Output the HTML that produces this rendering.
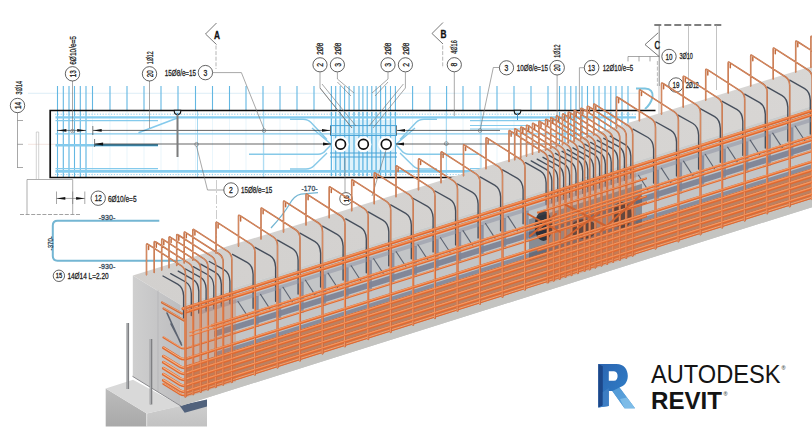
<!DOCTYPE html>
<html lang="en"><head><meta charset="utf-8"><title>Autodesk Revit - beam reinforcement</title>
<style>html,body{margin:0;padding:0;background:#fff;}body{width:812px;height:433px;overflow:hidden;}svg{display:block;}</style>
</head><body>
<svg width="812" height="433" viewBox="0 0 812 433">
<defs>
<linearGradient id="gEnd" x1="0" y1="0" x2="1" y2="0"><stop offset="0" stop-color="#cfcfcf"/><stop offset="1" stop-color="#bdbdbf"/></linearGradient>
<linearGradient id="gTop" x1="0" y1="1" x2="1" y2="0"><stop offset="0" stop-color="#d2d0ce"/><stop offset="1" stop-color="#d8d6d4"/></linearGradient>
<linearGradient id="gColL" x1="0" y1="0" x2="0" y2="1"><stop offset="0" stop-color="#bcbcbc"/><stop offset="1" stop-color="#a9a9a9"/></linearGradient>
<linearGradient id="gColR" x1="0" y1="0" x2="0" y2="1"><stop offset="0" stop-color="#d0d0d0"/><stop offset="1" stop-color="#c2c2c2"/></linearGradient>
<linearGradient id="gR" x1="0" y1="0" x2="1" y2="1"><stop offset="0" stop-color="#2b64b0"/><stop offset="0.6" stop-color="#2f79c2"/><stop offset="1" stop-color="#62a9df"/></linearGradient>
</defs>
<rect width="812" height="433" fill="#fff"/>
<g id="drawing" fill="none">
<path d="M28 93.3H640" stroke="#cfe6f2" stroke-width="0.7"/>
<path d="M28 144.3H60" stroke="#e8c9c0" stroke-width="0.5"/>
<path d="M57.5 86V110M63.3 86V110M69 86V110M74.5 86V110M80.3 86V110M86 86V110M92.5 86V110M110 86V110M127 86V110M144 86V110M161 86V110M178 86V110M195.5 86V110M212.5 86V110M229.5 86V110M246 86V110M263 86V110M280 86V110M297 86V110M314 86V110M331.4 86V110M335.7 86V110M340.2 86V110M344.6 86V110M349.1 86V110M354 86V110M359 86V110M362.9 86V110M367.2 86V110M371.8 86V110M376.1 86V110M380.6 86V110M385.6 86V110M390.5 86V110M395.4 86V110M412.6 86V110M429.9 86V110M446.6 86V110M463 86V110M480 86V110M497 86V110M514 86V110M531 86V110M548 86V110M559.5 86V110M565 86V110M570.8 86V110M576 86V110M582 86V110M587.5 86V110M593.8 86V110M599 86V110M605 86V110M610.8 86V110M616 86V110M622 86V110M628 86V110" stroke="#63b7e2" stroke-width="1.1"/>
<path d="M57.5 111V177M63.3 111V177M69 111V177M74.5 111V177M80.3 111V177M86 111V177M92.5 111V177M110 111V177M127 111V177M144 111V177M161 111V177M178 111V177M195.5 111V177M212.5 111V177M229.5 111V177M246 111V177M263 111V177M280 111V177M297 111V177M314 111V177M331.4 111V177M335.7 111V177M340.2 111V177M344.6 111V177M349.1 111V177M354 111V177M359 111V177M362.9 111V177M367.2 111V177M371.8 111V177M376.1 111V177M380.6 111V177M385.6 111V177M390.5 111V177M395.4 111V177M412.6 111V177M429.9 111V177M446.6 111V177M463 111V177M480 111V177M497 111V177M514 111V177M531 111V177M548 111V177M559.5 111V177M565 111V177M570.8 111V177M576 111V177M582 111V177M587.5 111V177M593.8 111V177M599 111V177M605 111V177M610.8 111V177M616 111V177M622 111V177M628 111V177" stroke="#84caec" stroke-width="0.8" opacity="0.22"/>
<path d="M197.5 111V177" stroke="#84caec" stroke-width="0.9" opacity="0.8"/>
<path d="M57.5 111V177M63.3 111V177M69 111V177M74.5 111V177M80.3 111V177M86 111V177" stroke="#63b7e2" stroke-width="1.1"/>
<rect x="333" y="120" width="61" height="52" fill="#9ad6f2" opacity="0.32"/>
<path d="M331.4 112V176M335.7 112V176M340.2 112V176M344.6 112V176M349.1 112V176M354 112V176M359 112V176M362.9 112V176M367.2 112V176M371.8 112V176M376.1 112V176M380.6 112V176M385.6 112V176M390.5 112V176M395.4 112V176" stroke="#63b7e2" stroke-width="1.3"/>
<path d="M330 125.6H397M330 157H397M330 135.5H397M330 153H397" stroke="#4aa3d6" stroke-width="1"/>
<path d="M559.5 112V176M565 112V176M570.8 112V176M576 112V176M582 112V176M587.5 112V176M593.8 112V176M599 112V176M605 112V176M610.8 112V176M616 112V176M622 112V176M628 112V176" stroke="#63b7e2" stroke-width="1.2"/>
<path d="M55 114.2H636M55 174.6H636" stroke="#63b7e2" stroke-width="0.7" stroke-dasharray="1.2 1.6"/>
<path d="M55.5 117.3H636" stroke="#84ccef" stroke-width="2.3"/>
<path d="M55.5 133.8H636" stroke="#84caec" stroke-width="1.2"/>
<path d="M55.5 171.4H636" stroke="#84ccef" stroke-width="2.8"/>
<path d="M55.5 120.6H158M55.5 168.7H158" stroke="#84caec" stroke-width="1.3"/>
<path d="M55.5 145.2H158" stroke="#84caec" stroke-width="2.6"/>
<path d="M95 145.2H158" stroke="#3a7f9f" stroke-width="1.8"/>
<path d="M470 120.6H560M470 168.7H560" stroke="#84caec" stroke-width="1.3"/>
<path d="M470 125.5H530M470 129H530" stroke="#84caec" stroke-width="1.2"/>
<path d="M138.5 132.8L178 117.8" stroke="#84caec" stroke-width="1.5"/>
<path d="M290 119.2H303Q308 119.2 311 122.5L327 139.5M249 154.2H318Q323 154.2 326 150L331.5 144.5M290 169H306Q311 169 314 165.8L327 153M312 128L331 144.3" stroke="#86c9e8" stroke-width="1.4"/>
<path d="M437 119.2H424Q419 119.2 416 122.5L400 139.5M478 154.2H409Q404 154.2 401 150L395.5 144.5M437 169H421Q416 169 413 165.8L400 153M415 128L396 144.3" stroke="#86c9e8" stroke-width="1.4"/>
<path d="M263.7 111V177M446.3 111V177M481 111V177" stroke="#84caec" stroke-width="0.9" opacity="0.85"/>
<circle cx="446.3" cy="143.6" r="1.9" stroke="#6d6d6d" stroke-width="0.6" fill="none"/>
<path d="M93 130.4H330M95 144H331M397 130.4H500M396 144H560" stroke="#222" stroke-width="0.7"/>
<path d="M57 130.4H86" stroke="#222" stroke-width="0.6"/>
<path d="M93.2 130.4l8.5 -1.4v2.8z" fill="#111" stroke="none"/>
<path d="M94.3 144l8.8 -1.4v2.8z" fill="#111" stroke="none"/>
<path d="M330.5 130.4l-8.5 -1.4v2.8z" fill="#111" stroke="none"/>
<path d="M331.5 144l-8.5 -1.4v2.8z" fill="#111" stroke="none"/>
<path d="M396.5 130.4l8.5 -1.4v2.8z" fill="#111" stroke="none"/>
<path d="M395.5 144l8.5 -1.4v2.8z" fill="#111" stroke="none"/>
<path d="M57.4 130.4l9 -1.3v2.6z" fill="#111" stroke="none"/>
<path d="M86.2 130.4l-9 -1.3v2.6z" fill="#111" stroke="none"/>
<path d="M92.8 126V135M94.6 139V147M330.5 126V135M396.5 126V135" stroke="#222" stroke-width="0.6"/>
<path d="M50.2 110.5H655.5M50.2 177.5H655.5M50.2 109.7V178.3" stroke="#0b0b0b" stroke-width="1.7"/>
<path d="M636 88.6H645Q653.5 89 652.5 97Q651 104 645 109" stroke="#7cc4e0" stroke-width="2" fill="none"/>
<path d="M174.3 110.2v1.2a3.2 3 0 0 0 6.4 0v-1.2z" fill="#cfe9f6" stroke="#111" stroke-width="1.1"/>
<path d="M177.5 113V120" stroke="#3f8fc4" stroke-width="1"/>
<path d="M514.3 110.2v1.2a3.2 3 0 0 0 6.4 0v-1.2z" fill="#cfe9f6" stroke="#111" stroke-width="1.1"/>
<path d="M517.5 113V120" stroke="#3f8fc4" stroke-width="1"/>
<path d="M177.5 115V157" stroke="#7c7c7c" stroke-width="2"/>
<circle cx="340.6" cy="144.3" r="8" fill="#fff"/>
<circle cx="340.6" cy="144.3" r="4.9" fill="#fff" stroke="#111" stroke-width="1.7"/>
<circle cx="363.4" cy="144.3" r="8" fill="#fff"/>
<circle cx="363.4" cy="144.3" r="4.9" fill="#fff" stroke="#111" stroke-width="1.7"/>
<circle cx="386.2" cy="144.3" r="8" fill="#fff"/>
<circle cx="386.2" cy="144.3" r="4.9" fill="#fff" stroke="#111" stroke-width="1.7"/>
</g>
<g id="annot">
<path d="M17.5 112V168M17.5 120.5H23M17.5 144.3H23M17.5 167.5H23" stroke="#6d6d6d" stroke-width="0.6" fill="none"/>
<circle cx="17.5" cy="105.5" r="7.2" fill="#fff" stroke="#3a3a3a" stroke-width="0.8"/>
<text transform="translate(20.6 105.5) rotate(-90)" font-family="Liberation Sans, sans-serif" font-size="8.8" text-anchor="middle" fill="#1f1f1f" stroke="#1f1f1f" stroke-width="0.3" textLength="7" lengthAdjust="spacingAndGlyphs">14</text>
<text transform="translate(22.3 94.4) rotate(-90)" font-family="Liberation Sans, sans-serif" font-size="8.6" text-anchor="start" fill="#1f1f1f" stroke="#1f1f1f" stroke-width="0.3" textLength="13.4" lengthAdjust="spacingAndGlyphs">3Ø14</text>
<path d="M72.5 80V132" stroke="#6d6d6d" stroke-width="0.6" fill="none"/>
<circle cx="72.5" cy="131" r="1.8" stroke="#6d6d6d" stroke-width="0.6" fill="none"/>
<circle cx="72.5" cy="73.8" r="7.2" fill="#fff" stroke="#3a3a3a" stroke-width="0.8"/>
<text transform="translate(75.6 73.8) rotate(-90)" font-family="Liberation Sans, sans-serif" font-size="8.8" text-anchor="middle" fill="#1f1f1f" stroke="#1f1f1f" stroke-width="0.3" textLength="7" lengthAdjust="spacingAndGlyphs">13</text>
<text transform="translate(76.1 64.8) rotate(-90)" font-family="Liberation Sans, sans-serif" font-size="8.6" text-anchor="start" fill="#1f1f1f" stroke="#1f1f1f" stroke-width="0.3" textLength="28.8" lengthAdjust="spacingAndGlyphs">6Ø10/e=5</text>
<path d="M149.5 80V128" stroke="#6d6d6d" stroke-width="0.6" fill="none"/>
<circle cx="149.5" cy="73.8" r="7.2" fill="#fff" stroke="#3a3a3a" stroke-width="0.8"/>
<text transform="translate(152.6 73.8) rotate(-90)" font-family="Liberation Sans, sans-serif" font-size="8.8" text-anchor="middle" fill="#1f1f1f" stroke="#1f1f1f" stroke-width="0.3" textLength="7" lengthAdjust="spacingAndGlyphs">20</text>
<text transform="translate(153 64.2) rotate(-90)" font-family="Liberation Sans, sans-serif" font-size="8.6" text-anchor="start" fill="#1f1f1f" stroke="#1f1f1f" stroke-width="0.3" textLength="12.8" lengthAdjust="spacingAndGlyphs">1Ø12</text>
<text x="164.8" y="75.9" font-family="Liberation Sans, sans-serif" font-size="8.8" text-anchor="start" fill="#1f1f1f" stroke="#1f1f1f" stroke-width="0.3" textLength="31.2" lengthAdjust="spacingAndGlyphs">15Ø8/e=15</text>
<circle cx="205.4" cy="72.6" r="7.2" fill="#fff" stroke="#3a3a3a" stroke-width="0.8"/>
<text x="205.4" y="75.8" font-family="Liberation Sans, sans-serif" font-size="8.8" text-anchor="middle" fill="#1f1f1f" stroke="#1f1f1f" stroke-width="0.3" textLength="3.8" lengthAdjust="spacingAndGlyphs">3</text>
<path d="M212.6 72.6H241.4L264 129" stroke="#6d6d6d" stroke-width="0.6" fill="none"/>
<circle cx="264" cy="130.6" r="1.8" stroke="#6d6d6d" stroke-width="0.6" fill="none"/>
<path d="M216.5 23L205.5 34L216.5 44.5" stroke="#555" stroke-width="0.8" fill="none"/>
<text x="214.1" y="38.6" font-family="Liberation Sans, sans-serif" font-size="10.6" text-anchor="start" fill="#111" stroke="#111" stroke-width="0.3" font-weight="bold" textLength="6" lengthAdjust="spacingAndGlyphs">A</text>
<path d="M216 45.5V69" stroke="#b5b5b5" stroke-width="1" stroke-dasharray="4 1.6" fill="none"/>
<path d="M216.5 180V300" stroke="#aaa" stroke-width="0.6" stroke-dasharray="9 2 2 2" fill="none"/>
<path d="M443 22.5L432 33.5L443 44" stroke="#555" stroke-width="0.8" fill="none"/>
<text x="440.6" y="38.1" font-family="Liberation Sans, sans-serif" font-size="10.6" text-anchor="start" fill="#111" stroke="#111" stroke-width="0.3" font-weight="bold" textLength="6" lengthAdjust="spacingAndGlyphs">B</text>
<path d="M442.7 45.5V68" stroke="#b5b5b5" stroke-width="1" stroke-dasharray="4 1.6" fill="none"/>
<circle cx="320" cy="64.8" r="7.1" fill="#fff" stroke="#3a3a3a" stroke-width="0.8"/>
<text transform="translate(323.1 64.8) rotate(-90)" font-family="Liberation Sans, sans-serif" font-size="8.8" text-anchor="middle" fill="#1f1f1f" stroke="#1f1f1f" stroke-width="0.3" textLength="3.8" lengthAdjust="spacingAndGlyphs">2</text>
<text transform="translate(323.2 54.8) rotate(-90)" font-family="Liberation Sans, sans-serif" font-size="8.6" text-anchor="start" fill="#1f1f1f" stroke="#1f1f1f" stroke-width="0.3" textLength="12" lengthAdjust="spacingAndGlyphs">2Ø8</text>
<circle cx="337.4" cy="64.8" r="7.1" fill="#fff" stroke="#3a3a3a" stroke-width="0.8"/>
<text transform="translate(340.5 64.8) rotate(-90)" font-family="Liberation Sans, sans-serif" font-size="8.8" text-anchor="middle" fill="#1f1f1f" stroke="#1f1f1f" stroke-width="0.3" textLength="3.8" lengthAdjust="spacingAndGlyphs">3</text>
<text transform="translate(340.6 54.8) rotate(-90)" font-family="Liberation Sans, sans-serif" font-size="8.6" text-anchor="start" fill="#1f1f1f" stroke="#1f1f1f" stroke-width="0.3" textLength="12" lengthAdjust="spacingAndGlyphs">2Ø8</text>
<circle cx="388" cy="64.8" r="7.1" fill="#fff" stroke="#3a3a3a" stroke-width="0.8"/>
<text transform="translate(391.1 64.8) rotate(-90)" font-family="Liberation Sans, sans-serif" font-size="8.8" text-anchor="middle" fill="#1f1f1f" stroke="#1f1f1f" stroke-width="0.3" textLength="3.8" lengthAdjust="spacingAndGlyphs">3</text>
<text transform="translate(391.2 54.8) rotate(-90)" font-family="Liberation Sans, sans-serif" font-size="8.6" text-anchor="start" fill="#1f1f1f" stroke="#1f1f1f" stroke-width="0.3" textLength="12" lengthAdjust="spacingAndGlyphs">2Ø8</text>
<circle cx="405.4" cy="64.8" r="7.1" fill="#fff" stroke="#3a3a3a" stroke-width="0.8"/>
<text transform="translate(408.5 64.8) rotate(-90)" font-family="Liberation Sans, sans-serif" font-size="8.8" text-anchor="middle" fill="#1f1f1f" stroke="#1f1f1f" stroke-width="0.3" textLength="3.8" lengthAdjust="spacingAndGlyphs">2</text>
<text transform="translate(408.6 54.8) rotate(-90)" font-family="Liberation Sans, sans-serif" font-size="8.6" text-anchor="start" fill="#1f1f1f" stroke="#1f1f1f" stroke-width="0.3" textLength="12" lengthAdjust="spacingAndGlyphs">2Ø8</text>
<path d="M320 72.2V88L352 128M320 88L352 128M322 84L356 126" stroke="#6d6d6d" stroke-width="0.6" fill="none"/>
<path d="M337.4 72.2V79L354 93M337.4 82L351 96" stroke="#6d6d6d" stroke-width="0.6" fill="none"/>
<path d="M388 72.2V79L372 93M388 82L375 96" stroke="#6d6d6d" stroke-width="0.6" fill="none"/>
<path d="M405.4 72.2V88L373 128M403.4 84L369 126" stroke="#6d6d6d" stroke-width="0.6" fill="none"/>
<path d="M454.3 72V116" stroke="#6d6d6d" stroke-width="0.6" fill="none"/>
<circle cx="454.3" cy="64.7" r="7.1" fill="#fff" stroke="#3a3a3a" stroke-width="0.8"/>
<text transform="translate(457.4 64.7) rotate(-90)" font-family="Liberation Sans, sans-serif" font-size="8.8" text-anchor="middle" fill="#1f1f1f" stroke="#1f1f1f" stroke-width="0.3" textLength="3.8" lengthAdjust="spacingAndGlyphs">8</text>
<text transform="translate(457.4 53.8) rotate(-90)" font-family="Liberation Sans, sans-serif" font-size="8.6" text-anchor="start" fill="#1f1f1f" stroke="#1f1f1f" stroke-width="0.3" textLength="13.5" lengthAdjust="spacingAndGlyphs">4Ø16</text>
<circle cx="506.5" cy="67.8" r="7.1" fill="#fff" stroke="#3a3a3a" stroke-width="0.8"/>
<text x="506.5" y="71" font-family="Liberation Sans, sans-serif" font-size="8.8" text-anchor="middle" fill="#1f1f1f" stroke="#1f1f1f" stroke-width="0.3" textLength="3.8" lengthAdjust="spacingAndGlyphs">3</text>
<path d="M499.4 67.5H493.3L480.3 129" stroke="#6d6d6d" stroke-width="0.6" fill="none"/>
<circle cx="480" cy="130.6" r="1.8" stroke="#6d6d6d" stroke-width="0.6" fill="none"/>
<text x="516.8" y="70.8" font-family="Liberation Sans, sans-serif" font-size="8.8" text-anchor="start" fill="#1f1f1f" stroke="#1f1f1f" stroke-width="0.3" textLength="31.2" lengthAdjust="spacingAndGlyphs">10Ø8/e=15</text>
<path d="M557.1 75V116" stroke="#6d6d6d" stroke-width="0.6" fill="none"/>
<circle cx="557.1" cy="67.7" r="7.3" fill="#fff" stroke="#3a3a3a" stroke-width="0.8"/>
<text transform="translate(560.2 67.7) rotate(-90)" font-family="Liberation Sans, sans-serif" font-size="8.8" text-anchor="middle" fill="#1f1f1f" stroke="#1f1f1f" stroke-width="0.3" textLength="7" lengthAdjust="spacingAndGlyphs">20</text>
<text transform="translate(560.4 57.8) rotate(-90)" font-family="Liberation Sans, sans-serif" font-size="8.6" text-anchor="start" fill="#1f1f1f" stroke="#1f1f1f" stroke-width="0.3" textLength="13.2" lengthAdjust="spacingAndGlyphs">1Ø12</text>
<path d="M584.4 67.7H579.4V110" stroke="#6d6d6d" stroke-width="0.6" fill="none"/>
<circle cx="591.6" cy="67.7" r="7.3" fill="#fff" stroke="#3a3a3a" stroke-width="0.8"/>
<text x="591.6" y="70.9" font-family="Liberation Sans, sans-serif" font-size="8.8" text-anchor="middle" fill="#1f1f1f" stroke="#1f1f1f" stroke-width="0.3" textLength="7" lengthAdjust="spacingAndGlyphs">13</text>
<text x="602.7" y="70.6" font-family="Liberation Sans, sans-serif" font-size="8.8" text-anchor="start" fill="#1f1f1f" stroke="#1f1f1f" stroke-width="0.3" textLength="30.5" lengthAdjust="spacingAndGlyphs">12Ø10/e=5</text>
<path d="M654.3 25H723" stroke="#555" stroke-width="1.3" stroke-dasharray="7 3" fill="none"/>
<path d="M688.5 25V86M716.5 25V90" stroke="#9a9a9a" stroke-width="0.6" fill="none"/>
<path d="M658.2 32.8L645 44.6L659.2 56.5" stroke="#555" stroke-width="0.8" fill="none"/>
<text x="654.6" y="48.7" font-family="Liberation Sans, sans-serif" font-size="11" text-anchor="start" fill="#111" stroke="#111" stroke-width="0.5" textLength="5.6" lengthAdjust="spacingAndGlyphs">C</text>
<path d="M628 56.5H659.2M628 56.5V61.4M639 56.5V61.4M650 56.5V61.4" stroke="#6d6d6d" stroke-width="0.6" fill="none"/>
<path d="M659.2 25.5V86" stroke="#666" stroke-width="0.8" fill="none"/>
<path d="M659 86V116" stroke="#b0b0b0" stroke-width="0.7" fill="none"/>
<path d="M657.4 61V86" stroke="#aaa" stroke-width="0.8" stroke-dasharray="4 1.6" fill="none"/>
<circle cx="669" cy="56.5" r="7.2" fill="#fff" stroke="#3a3a3a" stroke-width="0.8"/>
<text x="669" y="59.7" font-family="Liberation Sans, sans-serif" font-size="8.8" text-anchor="middle" fill="#1f1f1f" stroke="#1f1f1f" stroke-width="0.3" textLength="7" lengthAdjust="spacingAndGlyphs">10</text>
<text x="679.5" y="59.2" font-family="Liberation Sans, sans-serif" font-size="8.6" text-anchor="start" fill="#1f1f1f" stroke="#1f1f1f" stroke-width="0.3" textLength="13.4" lengthAdjust="spacingAndGlyphs">3Ø10</text>
<circle cx="676" cy="85" r="7.2" fill="#fff" stroke="#3a3a3a" stroke-width="0.8"/>
<text x="676" y="88.2" font-family="Liberation Sans, sans-serif" font-size="8.8" text-anchor="middle" fill="#1f1f1f" stroke="#1f1f1f" stroke-width="0.3" textLength="7" lengthAdjust="spacingAndGlyphs">19</text>
<text x="685.8" y="87.7" font-family="Liberation Sans, sans-serif" font-size="8.6" text-anchor="start" fill="#1f1f1f" stroke="#1f1f1f" stroke-width="0.3" textLength="13" lengthAdjust="spacingAndGlyphs">2Ø12</text>
<path d="M27 179.5H72.7M27 179.5V214.5M72.7 179.5V214.5" stroke="#8a8a8a" stroke-width="0.7" fill="none"/>
<path d="M20 214.5H80" stroke="#8a8a8a" stroke-width="0.8" stroke-dasharray="4 1.6" fill="none"/>
<path d="M36.3 132V179.5M38.7 132V179.5M36.3 132H38.7" stroke="#b5b5b5" stroke-width="0.6" fill="none"/>
<path d="M56.5 198.4H84.8M56.5 191.5V204M72.7 191.5V204M84.8 191.5V204" stroke="#6d6d6d" stroke-width="0.6" fill="none"/>
<path d="M56.5 198.4l8.8 -1.3v2.6z" fill="#111" stroke="none"/>
<path d="M84.9 198.4l-8.8 -1.3v2.6z" fill="#111" stroke="none"/>
<circle cx="98.2" cy="198.2" r="7.2" fill="#fff" stroke="#3a3a3a" stroke-width="0.8"/>
<text x="98.2" y="201.4" font-family="Liberation Sans, sans-serif" font-size="8.8" text-anchor="middle" fill="#1f1f1f" stroke="#1f1f1f" stroke-width="0.3" textLength="7" lengthAdjust="spacingAndGlyphs">12</text>
<text x="107.9" y="201.8" font-family="Liberation Sans, sans-serif" font-size="8.8" text-anchor="start" fill="#1f1f1f" stroke="#1f1f1f" stroke-width="0.3" textLength="28.6" lengthAdjust="spacingAndGlyphs">6Ø10/e=5</text>
<path d="M224.4 190H207.5L196.5 146" stroke="#6d6d6d" stroke-width="0.6" fill="none"/>
<circle cx="196.6" cy="144.3" r="1.9" stroke="#6d6d6d" stroke-width="0.6" fill="none"/>
<circle cx="231" cy="190" r="7.2" fill="#fff" stroke="#3a3a3a" stroke-width="0.8"/>
<text x="231" y="193.2" font-family="Liberation Sans, sans-serif" font-size="8.8" text-anchor="middle" fill="#1f1f1f" stroke="#1f1f1f" stroke-width="0.3" textLength="3.8" lengthAdjust="spacingAndGlyphs">2</text>
<text x="241" y="193.2" font-family="Liberation Sans, sans-serif" font-size="8.8" text-anchor="start" fill="#1f1f1f" stroke="#1f1f1f" stroke-width="0.3" textLength="31.2" lengthAdjust="spacingAndGlyphs">15Ø8/e=15</text>
<path d="M159.3 220.7H57.5Q52.8 220.7 52.8 225.5V256Q52.8 260.7 57.5 260.7H300" stroke="#74b6d3" stroke-width="2" fill="none"/>
<text x="107" y="219.6" font-family="Liberation Sans, sans-serif" font-size="8" text-anchor="middle" fill="#34495a" stroke="#34495a" stroke-width="0.3" textLength="16.5" lengthAdjust="spacingAndGlyphs">-930-</text>
<text x="107" y="269.3" font-family="Liberation Sans, sans-serif" font-size="8" text-anchor="middle" fill="#34495a" stroke="#34495a" stroke-width="0.3" textLength="16.5" lengthAdjust="spacingAndGlyphs">-930-</text>
<text transform="translate(53.4 243.3) rotate(-90)" font-family="Liberation Sans, sans-serif" font-size="8" text-anchor="middle" fill="#34495a" stroke="#34495a" stroke-width="0.3" textLength="14.2" lengthAdjust="spacingAndGlyphs">-370-</text>
<circle cx="58.9" cy="275.8" r="5.7" fill="#fff" stroke="#3a3a3a" stroke-width="0.8"/>
<text x="58.9" y="278.3" font-family="Liberation Sans, sans-serif" font-size="7" text-anchor="middle" fill="#1f1f1f" stroke="#1f1f1f" stroke-width="0.3" textLength="6.4" lengthAdjust="spacingAndGlyphs">15</text>
<text x="67.4" y="278.9" font-family="Liberation Sans, sans-serif" font-size="8.6" text-anchor="start" fill="#1f1f1f" stroke="#1f1f1f" stroke-width="0.3" textLength="41.2" lengthAdjust="spacingAndGlyphs">14Ø14 L=2.20</text>
<path d="M271 228Q283 215 289 205Q294 195.5 301 194.2L318 192.6" stroke="#74b6d3" stroke-width="1.3" fill="none"/>
<text x="309.5" y="190.5" font-family="Liberation Sans, sans-serif" font-size="8" text-anchor="middle" fill="#34495a" stroke="#34495a" stroke-width="0.3" textLength="16" lengthAdjust="spacingAndGlyphs">-170-</text>
<path d="M345 158V192.4" stroke="#6d6d6d" stroke-width="0.6" fill="none"/>
<path d="M386 150L372 196" stroke="#6d6d6d" stroke-width="0.6" fill="none"/>
<circle cx="346" cy="198.8" r="6.2" fill="#fff" stroke="#3a3a3a" stroke-width="0.8"/>
<text transform="translate(349.1 198.8) rotate(-90)" font-family="Liberation Sans, sans-serif" font-size="6.6" text-anchor="middle" fill="#1f1f1f" stroke="#1f1f1f" stroke-width="0.3" textLength="7" lengthAdjust="spacingAndGlyphs">16</text>
</g>
<g id="beam3d" fill="none" stroke-linecap="round" stroke-linejoin="round">
<path d="M105.7 388.4L146.7 413.4V426.5H105.7Z" fill="url(#gColL)"/>
<path d="M146.7 413.4L207 399.5V426.5H146.7Z" fill="url(#gColR)"/>
<path d="M105.7 388.4L133 379.8L181 406L146.7 413.4Z" fill="#d9d9d9"/>
<path d="M179.5 405.6L207 399.6V406.6L184.7 412.8Z" fill="#51627c"/>
<path d="M146.7 413.4V426.5" stroke="#e6e6e6" stroke-width="0.8"/>
<path d="M132.8 275.5L180.8 305L814 105.5L814 65.6Z" fill="url(#gTop)"/>
<path d="M180.8 305L814 105.5L814 206.5L180.8 406Z" fill="#c3c5c7"/>
<path d="M180.8 305L814 105.5L814 110.5L180.8 310Z" fill="#cbcccb"/>
<path d="M180.8 398L814 198.5L814 206.5L180.8 406Z" fill="#c4c4c1"/>
<path d="M132.8 275.5L180.8 305L180.8 406L132.8 376.5Z" fill="url(#gEnd)"/>
<path d="M158 290.8V391" stroke="#b4b4b6" stroke-width="0.8"/>
<path d="M132.8 376.5L180.8 406" stroke="#8b8b8f" stroke-width="1"/>
<path d="M127.8 323V389" stroke="#7f8083" stroke-width="2.6" stroke-linecap="butt"/>
<path d="M127.3 323V389" stroke="#b9babd" stroke-width="0.8" stroke-linecap="butt"/>
<path d="M151 339V404.5" stroke="#7f8083" stroke-width="2.6" stroke-linecap="butt"/>
<path d="M150.5 339V404.5" stroke="#b9babd" stroke-width="0.8" stroke-linecap="butt"/>
<g stroke="#3f4856" stroke-width="1.35" opacity="0.95">
<path d="M163 276l15 8.4q5.2 3 5.6 11.5v22"/>
<path d="M170.7 273.6l15 8.4q5.2 3 5.6 11.5v22"/>
<path d="M178.2 271.2l15 8.4q5.2 3 5.6 11.5v22"/>
<path d="M185.5 269l15 8.4q5.2 3 5.6 11.5v22"/>
<path d="M193.2 266.6l15 8.4q5.2 3 5.6 11.5v22"/>
<path d="M200.7 264.2l15 8.4q5.2 3 5.6 11.5v22"/>
<path d="M209.3 261.5l15 8.4q5.2 3 5.6 11.5v22"/>
<path d="M232.5 254.3l15 8.4q5.2 3 5.6 11.5v34"/>
<path d="M255 247.3l15 8.4q5.2 3 5.6 11.5v34"/>
<path d="M277.5 240.2l15 8.4q5.2 3 5.6 11.5v34"/>
<path d="M300 233.2l15 8.4q5.2 3 5.6 11.5v34"/>
<path d="M322.5 226.2l15 8.4q5.2 3 5.6 11.5v34"/>
<path d="M345.7 218.9l15 8.4q5.2 3 5.6 11.5v34"/>
<path d="M368.2 211.9l15 8.4q5.2 3 5.6 11.5v34"/>
<path d="M390.7 204.9l15 8.4q5.2 3 5.6 11.5v34"/>
<path d="M412.5 198l15 8.4q5.2 3 5.6 11.5v34"/>
<path d="M435 191l15 8.4q5.2 3 5.6 11.5v34"/>
<path d="M457.5 184l15 8.4q5.2 3 5.6 11.5v34"/>
<path d="M480 176.9l15 8.4q5.2 3 5.6 11.5v34"/>
<path d="M502.5 169.9l15 8.4q5.2 3 5.6 11.5v34"/>
<path d="M525.5 162.7l15 8.4q5.2 3 5.6 11.5v22"/>
<path d="M531.2 160.9l15 8.4q5.2 3 5.6 11.5v22"/>
<path d="M537.2 159.1l15 8.4q5.2 3 5.6 11.5v22"/>
<path d="M543 157.3l15 8.4q5.2 3 5.6 11.5v22"/>
<path d="M549 155.4l15 8.4q5.2 3 5.6 11.5v22"/>
<path d="M555.4 153.4l15 8.4q5.2 3 5.6 11.5v22"/>
<path d="M562.1 151.3l15 8.4q5.2 3 5.6 11.5v22"/>
<path d="M567.2 149.7l15 8.4q5.2 3 5.6 11.5v22"/>
<path d="M572.9 147.9l15 8.4q5.2 3 5.6 11.5v22"/>
<path d="M579 146l15 8.4q5.2 3 5.6 11.5v22"/>
<path d="M584.7 144.2l15 8.4q5.2 3 5.6 11.5v22"/>
<path d="M590.6 142.4l15 8.4q5.2 3 5.6 11.5v22"/>
<path d="M597.3 140.3l15 8.4q5.2 3 5.6 11.5v22"/>
<path d="M603.8 138.3l15 8.4q5.2 3 5.6 11.5v22"/>
<path d="M610.2 136.2l15 8.4q5.2 3 5.6 11.5v22"/>
<path d="M633 129.1l15 8.4q5.2 3 5.6 11.5v34"/>
<path d="M655.9 122l15 8.4q5.2 3 5.6 11.5v34"/>
<path d="M678 115.1l15 8.4q5.2 3 5.6 11.5v34"/>
<path d="M699.7 108.3l15 8.4q5.2 3 5.6 11.5v34"/>
<path d="M722.2 101.3l15 8.4q5.2 3 5.6 11.5v34"/>
<path d="M744.7 94.2l15 8.4q5.2 3 5.6 11.5v34"/>
<path d="M767.2 87.2l15 8.4q5.2 3 5.6 11.5v34"/>
<path d="M789.7 80.2l15 8.4q5.2 3 5.6 11.5v34"/>
<path d="M812.2 73.1l15 8.4q5.2 3 5.6 11.5v34"/>
<path d="M827.4 68.4l15 8.4q5.2 3 5.6 11.5v22"/>
<path d="M834.7 66.1l15 8.4q5.2 3 5.6 11.5v22"/>
<path d="M842.3 63.7l15 8.4q5.2 3 5.6 11.5v22"/>
</g>
<path d="M200 310.5L814 117L814 121L200 314.5Z" fill="#8b90a2" opacity="0.5" stroke="none"/>
<path d="M214 331L814 142L814 148L214 337Z" fill="#7b8092" opacity="0.9" stroke="none"/>
<path d="M214 352.5L814 163.5L814 167.5L214 356.5Z" fill="#7f8394" opacity="0.85" stroke="none"/>
<path d="M186 365.4L814 167.5L814 198L186 395.9Z" fill="#b9663c" opacity="0.72" stroke="none"/>
<path d="M257.4 295.9V326.9M279.9 288.8V319.8M302.4 281.7V312.7M324.9 274.6V305.6M347.4 267.5V298.5M370.6 260.2V291.2M393.1 253.1V284.1M415.6 246V277M437.4 239.2V270.2M459.9 232.1V263.1M482.4 225V256M504.9 217.9V248.9M527.4 210.8V241.8M657.9 169.7V200.7M680.8 162.5V193.5M702.9 155.5V186.5M724.6 148.7V179.7M747.1 141.6V172.6M769.6 134.5V165.5M792.1 127.4V158.4M814.6 120.4V151.4M837.1 113.3V144.3" stroke="#7e8396" stroke-width="2.6" stroke-linecap="butt" opacity="0.8"/>
<path d="M238 301.5L248 316.8M260.5 294.4L270.5 309.7M283 287.3L293 302.7M305.5 280.2L315.5 295.6M328 273.1L338 288.5M351.2 265.8L361.2 281.2M373.7 258.7L383.7 274.1M396.2 251.7L406.2 267M418 244.8L428 260.1M440.5 237.7L450.5 253M463 230.6L473 246M485.5 223.5L495.5 238.9M508 216.4L518 231.8M638.5 175.3L648.5 190.7M661.4 168.1L671.4 183.5M683.5 161.1L693.5 176.5M705.2 154.3L715.2 169.7M727.7 147.2L737.7 162.6M750.2 140.1L760.2 155.5M772.7 133.1L782.7 148.4M795.2 126L805.2 141.3M817.7 118.9L827.7 134.2" stroke="#4a5262" stroke-width="1.1" opacity="0.85"/>
<path d="M529 219.3L642 183.7L642 225.7L529 261.3Z" fill="#3a3f4d" opacity="0.42" stroke="none"/>
<ellipse cx="543.5" cy="226" rx="9" ry="15" fill="#22262f" opacity="0.85" stroke="none"/>
<ellipse cx="583.5" cy="229" rx="13" ry="10" fill="#22262f" opacity="0.85" stroke="none"/>
<ellipse cx="622" cy="215" rx="10" ry="13" fill="#22262f" opacity="0.85" stroke="none"/>
<path d="M183 308.7L814 109.9" stroke="#de6a32" stroke-width="3.1"/>
<path d="M183 308.2L814 109.4" stroke="#f8b384" stroke-width="1.1"/>
<path d="M186 312L814 114.1" stroke="#de6a32" stroke-width="3.1"/>
<path d="M186 311.5L814 113.6" stroke="#f8b384" stroke-width="1.1"/>
<path d="M212 325.5L814 135.8" stroke="#de6a32" stroke-width="2.5"/>
<path d="M212 325L814 135.3" stroke="#f8b384" stroke-width="0.9"/>
<path d="M214 328.2L814 139.2" stroke="#de6a32" stroke-width="2.5"/>
<path d="M214 327.7L814 138.7" stroke="#f8b384" stroke-width="0.9"/>
<path d="M163.5 337.3L180 347.5Q183 349.3 187 348.1L814 150.5" stroke="#de6a32" stroke-width="2.0"/>
<path d="M163.5 337.3L180 347.5Q183 349.3 187 348.1L814 150.5" stroke="#f8b384" stroke-width="0.7" transform="translate(0 -0.5)"/>
<path d="M163.5 347.8L180 358Q183 359.8 187 358.6L814 161" stroke="#de6a32" stroke-width="2.8"/>
<path d="M163.5 347.8L180 358Q183 359.8 187 358.6L814 161" stroke="#f8b384" stroke-width="1" transform="translate(0 -0.5)"/>
<path d="M163.5 356.3L180 366.5Q183 368.3 187 367.1L814 169.5" stroke="#de6a32" stroke-width="3.1"/>
<path d="M163.5 356.3L180 366.5Q183 368.3 187 367.1L814 169.5" stroke="#f8b384" stroke-width="1.1" transform="translate(0 -0.5)"/>
<path d="M163.5 362.3L180 372.5Q183 374.3 187 373.1L814 175.5" stroke="#de6a32" stroke-width="3.1"/>
<path d="M163.5 362.3L180 372.5Q183 374.3 187 373.1L814 175.5" stroke="#f8b384" stroke-width="1.1" transform="translate(0 -0.5)"/>
<path d="M163.5 368.3L180 378.5Q183 380.3 187 379.1L814 181.5" stroke="#de6a32" stroke-width="3.1"/>
<path d="M163.5 368.3L180 378.5Q183 380.3 187 379.1L814 181.5" stroke="#f8b384" stroke-width="1.1" transform="translate(0 -0.5)"/>
<path d="M163.5 374.3L180 384.5Q183 386.3 187 385.1L814 187.5" stroke="#de6a32" stroke-width="3.1"/>
<path d="M163.5 374.3L180 384.5Q183 386.3 187 385.1L814 187.5" stroke="#f8b384" stroke-width="1.1" transform="translate(0 -0.5)"/>
<path d="M163.5 380.3L180 390.5Q183 392.3 187 391.1L814 193.5" stroke="#de6a32" stroke-width="3.1"/>
<path d="M163.5 380.3L180 390.5Q183 392.3 187 391.1L814 193.5" stroke="#f8b384" stroke-width="1.1" transform="translate(0 -0.5)"/>
<path d="M163.5 383.8L180 394Q183 395.8 187 394.6L814 197" stroke="#de6a32" stroke-width="2.2"/>
<path d="M163.5 383.8L180 394Q183 395.8 187 394.6L814 197" stroke="#f8b384" stroke-width="0.8" transform="translate(0 -0.5)"/>
<path d="M162 302.5L182 313.5M163.5 308.5L184 320.5" stroke="#cf6a38" stroke-width="2.2"/>
<path d="M162 302L182 313M163.5 308L184 320" stroke="#f0a77a" stroke-width="0.8"/>
<path d="M167 313L181.5 345M171 324L181 343" stroke="#4a5262" stroke-width="1.6" opacity="0.85"/>
<path d="M146.5 274.8V244.8Q146.5 243.2 148.1 244.4L181.5 265.8Q185.5 268.4 185.5 274.3V397M154.2 272.4V242.4Q154.2 240.8 155.8 242L189.2 263.4Q193.2 266 193.2 271.9V394.6M161.7 270V240Q161.7 238.4 163.3 239.6L196.7 261Q200.7 263.6 200.7 269.5V392.2M169 267.8V237.8Q169 236.2 170.6 237.4L204 258.8Q208 261.4 208 267.3V389.9M176.7 265.4V235.4Q176.7 233.8 178.3 235L211.7 256.4Q215.7 259 215.7 264.9V387.5M184.2 263V233Q184.2 231.4 185.8 232.6L219.2 254Q223.2 256.6 223.2 262.5V385.1M192.8 260.3V230.3Q192.8 228.7 194.4 229.9L227.8 251.3Q231.8 253.9 231.8 259.8V382.4M216 253.1V223.1Q216 221.5 217.6 222.7L251 244.1Q255 246.7 255 252.6V375.1M238.5 246.1V216.1Q238.5 214.5 240.1 215.7L273.5 237.1Q277.5 239.7 277.5 245.6V368M261 239V209Q261 207.4 262.6 208.6L296 230Q300 232.6 300 238.5V360.9M283.5 232V202Q283.5 200.4 285.1 201.6L318.5 223Q322.5 225.6 322.5 231.5V353.9M306 225V195Q306 193.4 307.6 194.6L341 216Q345 218.6 345 224.5V346.8M329.2 217.7V187.7Q329.2 186.1 330.8 187.3L364.2 208.7Q368.2 211.3 368.2 217.2V339.5M351.7 210.7V180.7Q351.7 179.1 353.3 180.3L386.7 201.7Q390.7 204.3 390.7 210.2V332.4M374.2 203.7V173.7Q374.2 172.1 375.8 173.3L409.2 194.7Q413.2 197.3 413.2 203.2V325.3M396 196.8V166.8Q396 165.2 397.6 166.4L431 187.8Q435 190.4 435 196.3V318.4M418.5 189.8V159.8Q418.5 158.2 420.1 159.4L453.5 180.8Q457.5 183.4 457.5 189.3V311.3M441 182.8V152.8Q441 151.2 442.6 152.4L476 173.8Q480 176.4 480 182.3V304.3M463.5 175.7V145.7Q463.5 144.1 465.1 145.3L498.5 166.7Q502.5 169.3 502.5 175.2V297.2M486 168.7V138.7Q486 137.1 487.6 138.3L521 159.7Q525 162.3 525 168.2V290.1M509 161.5V131.5Q509 129.9 510.6 131.1L544 152.5Q548 155.1 548 161V282.8M514.7 159.7V129.7Q514.7 128.1 516.3 129.3L549.7 150.7Q553.7 153.3 553.7 159.2V281M520.7 157.9V127.9Q520.7 126.3 522.3 127.5L555.7 148.9Q559.7 151.5 559.7 157.4V279.2M526.5 156.1V126.1Q526.5 124.5 528.1 125.7L561.5 147.1Q565.5 149.7 565.5 155.6V277.3M532.5 154.2V124.2Q532.5 122.6 534.1 123.8L567.5 145.2Q571.5 147.8 571.5 153.7V275.4M538.9 152.2V122.2Q538.9 120.6 540.5 121.8L573.9 143.2Q577.9 145.8 577.9 151.7V273.4M545.6 150.1V120.1Q545.6 118.5 547.2 119.7L580.6 141.1Q584.6 143.7 584.6 149.6V271.3M550.7 148.5V118.5Q550.7 116.9 552.3 118.1L585.7 139.5Q589.7 142.1 589.7 148V269.7M556.4 146.7V116.7Q556.4 115.1 558 116.3L591.4 137.7Q595.4 140.3 595.4 146.2V267.9M562.5 144.8V114.8Q562.5 113.2 564.1 114.4L597.5 135.8Q601.5 138.4 601.5 144.3V266M568.2 143V113Q568.2 111.4 569.8 112.6L603.2 134Q607.2 136.6 607.2 142.5V264.2M574.1 141.2V111.2Q574.1 109.6 575.7 110.8L609.1 132.2Q613.1 134.8 613.1 140.7V262.3M580.8 139.1V109.1Q580.8 107.5 582.4 108.7L615.8 130.1Q619.8 132.7 619.8 138.6V260.2M587.3 137.1V107.1Q587.3 105.5 588.9 106.7L622.3 128.1Q626.3 130.7 626.3 136.6V258.2M593.7 135V105Q593.7 103.4 595.3 104.6L628.7 126Q632.7 128.6 632.7 134.5V256.1M616.5 127.9V97.9Q616.5 96.3 618.1 97.5L651.5 118.9Q655.5 121.5 655.5 127.4V249M639.4 120.8V90.8Q639.4 89.2 641 90.4L674.4 111.8Q678.4 114.4 678.4 120.3V241.8M661.5 113.9V83.9Q661.5 82.3 663.1 83.5L696.5 104.9Q700.5 107.5 700.5 113.4V234.8M683.2 107.1V77.1Q683.2 75.5 684.8 76.7L718.2 98.1Q722.2 100.7 722.2 106.6V228M705.7 100.1V70.1Q705.7 68.5 707.3 69.7L740.7 91.1Q744.7 93.7 744.7 99.6V220.9M728.2 93V63Q728.2 61.4 729.8 62.6L763.2 84Q767.2 86.6 767.2 92.5V213.8M750.7 86V56Q750.7 54.4 752.3 55.6L785.7 77Q789.7 79.6 789.7 85.5V206.7M773.2 79V49Q773.2 47.4 774.8 48.6L808.2 70Q812.2 72.6 812.2 78.5V199.6M795.7 71.9V41.9Q795.7 40.3 797.3 41.5L830.7 62.9Q834.7 65.5 834.7 71.4V192.5M810.9 67.2V37.2Q810.9 35.6 812.5 36.8L845.9 58.2Q849.9 60.8 849.9 66.7V187.7M818.2 64.9V34.9Q818.2 33.3 819.8 34.5L853.2 55.9Q857.2 58.5 857.2 64.4V185.4M825.8 62.5V32.5Q825.8 30.9 827.4 32.1L860.8 53.5Q864.8 56.1 864.8 62V183" stroke="#bd6a40" stroke-width="1.55"/>
<path d="M146.5 274.8V244.8Q146.5 243.2 148.1 244.4L181.5 265.8Q185.5 268.4 185.5 274.3V397M154.2 272.4V242.4Q154.2 240.8 155.8 242L189.2 263.4Q193.2 266 193.2 271.9V394.6M161.7 270V240Q161.7 238.4 163.3 239.6L196.7 261Q200.7 263.6 200.7 269.5V392.2M169 267.8V237.8Q169 236.2 170.6 237.4L204 258.8Q208 261.4 208 267.3V389.9M176.7 265.4V235.4Q176.7 233.8 178.3 235L211.7 256.4Q215.7 259 215.7 264.9V387.5M184.2 263V233Q184.2 231.4 185.8 232.6L219.2 254Q223.2 256.6 223.2 262.5V385.1M192.8 260.3V230.3Q192.8 228.7 194.4 229.9L227.8 251.3Q231.8 253.9 231.8 259.8V382.4M216 253.1V223.1Q216 221.5 217.6 222.7L251 244.1Q255 246.7 255 252.6V375.1M238.5 246.1V216.1Q238.5 214.5 240.1 215.7L273.5 237.1Q277.5 239.7 277.5 245.6V368M261 239V209Q261 207.4 262.6 208.6L296 230Q300 232.6 300 238.5V360.9M283.5 232V202Q283.5 200.4 285.1 201.6L318.5 223Q322.5 225.6 322.5 231.5V353.9M306 225V195Q306 193.4 307.6 194.6L341 216Q345 218.6 345 224.5V346.8M329.2 217.7V187.7Q329.2 186.1 330.8 187.3L364.2 208.7Q368.2 211.3 368.2 217.2V339.5M351.7 210.7V180.7Q351.7 179.1 353.3 180.3L386.7 201.7Q390.7 204.3 390.7 210.2V332.4M374.2 203.7V173.7Q374.2 172.1 375.8 173.3L409.2 194.7Q413.2 197.3 413.2 203.2V325.3M396 196.8V166.8Q396 165.2 397.6 166.4L431 187.8Q435 190.4 435 196.3V318.4M418.5 189.8V159.8Q418.5 158.2 420.1 159.4L453.5 180.8Q457.5 183.4 457.5 189.3V311.3M441 182.8V152.8Q441 151.2 442.6 152.4L476 173.8Q480 176.4 480 182.3V304.3M463.5 175.7V145.7Q463.5 144.1 465.1 145.3L498.5 166.7Q502.5 169.3 502.5 175.2V297.2M486 168.7V138.7Q486 137.1 487.6 138.3L521 159.7Q525 162.3 525 168.2V290.1M509 161.5V131.5Q509 129.9 510.6 131.1L544 152.5Q548 155.1 548 161V282.8M514.7 159.7V129.7Q514.7 128.1 516.3 129.3L549.7 150.7Q553.7 153.3 553.7 159.2V281M520.7 157.9V127.9Q520.7 126.3 522.3 127.5L555.7 148.9Q559.7 151.5 559.7 157.4V279.2M526.5 156.1V126.1Q526.5 124.5 528.1 125.7L561.5 147.1Q565.5 149.7 565.5 155.6V277.3M532.5 154.2V124.2Q532.5 122.6 534.1 123.8L567.5 145.2Q571.5 147.8 571.5 153.7V275.4M538.9 152.2V122.2Q538.9 120.6 540.5 121.8L573.9 143.2Q577.9 145.8 577.9 151.7V273.4M545.6 150.1V120.1Q545.6 118.5 547.2 119.7L580.6 141.1Q584.6 143.7 584.6 149.6V271.3M550.7 148.5V118.5Q550.7 116.9 552.3 118.1L585.7 139.5Q589.7 142.1 589.7 148V269.7M556.4 146.7V116.7Q556.4 115.1 558 116.3L591.4 137.7Q595.4 140.3 595.4 146.2V267.9M562.5 144.8V114.8Q562.5 113.2 564.1 114.4L597.5 135.8Q601.5 138.4 601.5 144.3V266M568.2 143V113Q568.2 111.4 569.8 112.6L603.2 134Q607.2 136.6 607.2 142.5V264.2M574.1 141.2V111.2Q574.1 109.6 575.7 110.8L609.1 132.2Q613.1 134.8 613.1 140.7V262.3M580.8 139.1V109.1Q580.8 107.5 582.4 108.7L615.8 130.1Q619.8 132.7 619.8 138.6V260.2M587.3 137.1V107.1Q587.3 105.5 588.9 106.7L622.3 128.1Q626.3 130.7 626.3 136.6V258.2M593.7 135V105Q593.7 103.4 595.3 104.6L628.7 126Q632.7 128.6 632.7 134.5V256.1M616.5 127.9V97.9Q616.5 96.3 618.1 97.5L651.5 118.9Q655.5 121.5 655.5 127.4V249M639.4 120.8V90.8Q639.4 89.2 641 90.4L674.4 111.8Q678.4 114.4 678.4 120.3V241.8M661.5 113.9V83.9Q661.5 82.3 663.1 83.5L696.5 104.9Q700.5 107.5 700.5 113.4V234.8M683.2 107.1V77.1Q683.2 75.5 684.8 76.7L718.2 98.1Q722.2 100.7 722.2 106.6V228M705.7 100.1V70.1Q705.7 68.5 707.3 69.7L740.7 91.1Q744.7 93.7 744.7 99.6V220.9M728.2 93V63Q728.2 61.4 729.8 62.6L763.2 84Q767.2 86.6 767.2 92.5V213.8M750.7 86V56Q750.7 54.4 752.3 55.6L785.7 77Q789.7 79.6 789.7 85.5V206.7M773.2 79V49Q773.2 47.4 774.8 48.6L808.2 70Q812.2 72.6 812.2 78.5V199.6M795.7 71.9V41.9Q795.7 40.3 797.3 41.5L830.7 62.9Q834.7 65.5 834.7 71.4V192.5M810.9 67.2V37.2Q810.9 35.6 812.5 36.8L845.9 58.2Q849.9 60.8 849.9 66.7V187.7M818.2 64.9V34.9Q818.2 33.3 819.8 34.5L853.2 55.9Q857.2 58.5 857.2 64.4V185.4M825.8 62.5V32.5Q825.8 30.9 827.4 32.1L860.8 53.5Q864.8 56.1 864.8 62V183" stroke="#e4a078" stroke-width="0.6"/>
<path d="M148.6 246v3.6M156.3 243.6v3.6M163.8 241.2v3.6M171.1 239v3.6M178.8 236.6v3.6M186.3 234.2v3.6M194.9 231.5v3.6M218.1 224.3v3.6M240.6 217.3v3.6M263.1 210.2v3.6M285.6 203.2v3.6M308.1 196.2v3.6M331.3 188.9v3.6M353.8 181.9v3.6M376.3 174.9v3.6M398.1 168v3.6M420.6 161v3.6M443.1 154v3.6M465.6 146.9v3.6M488.1 139.9v3.6M511.1 132.7v3.6M516.8 130.9v3.6M522.8 129.1v3.6M528.6 127.3v3.6M534.6 125.4v3.6M541 123.4v3.6M547.7 121.3v3.6M552.8 119.7v3.6M558.5 117.9v3.6M564.6 116v3.6M570.3 114.2v3.6M576.2 112.4v3.6M582.9 110.3v3.6M589.4 108.3v3.6M595.8 106.2v3.6M618.6 99.1v3.6M641.5 92v3.6M663.6 85.1v3.6M685.3 78.3v3.6M707.8 71.3v3.6M730.3 64.2v3.6M752.8 57.2v3.6M775.3 50.2v3.6M797.8 43.1v3.6M813 38.4v3.6M820.3 36.1v3.6M827.9 33.7v3.6" stroke="#c36b3d" stroke-width="1.5"/>
<path d="M185.5 307.5V397M193.2 305.1V394.6M200.7 302.7V392.2M208 300.4V389.9M215.7 298V387.5M223.2 295.6V385.1M231.8 292.9V382.4M255 285.6V375.1M277.5 278.5V368M300 271.4V360.9M322.5 264.4V353.9M345 257.3V346.8M368.2 250V339.5M390.7 242.9V332.4M413.2 235.8V325.3M435 228.9V318.4M457.5 221.8V311.3M480 214.8V304.3M502.5 207.7V297.2M525 200.6V290.1M548 193.3V282.8M553.7 191.5V281M559.7 189.7V279.2M565.5 187.8V277.3M571.5 185.9V275.4M577.9 183.9V273.4M584.6 181.8V271.3M589.7 180.2V269.7M595.4 178.4V267.9M601.5 176.5V266M607.2 174.7V264.2M613.1 172.8V262.3M619.8 170.7V260.2M626.3 168.7V258.2M632.7 166.6V256.1M655.5 159.5V249M678.4 152.3V241.8M700.5 145.3V234.8M722.2 138.5V228M744.7 131.4V220.9M767.2 124.3V213.8M789.7 117.2V206.7M812.2 110.1V199.6M834.7 103V192.5M849.9 98.2V187.7M857.2 95.9V185.4M864.8 93.5V183" stroke="#cf6a3e" stroke-width="2.1" stroke-linecap="butt"/>
<path d="M185.5 307.5V397M193.2 305.1V394.6M200.7 302.7V392.2M208 300.4V389.9M215.7 298V387.5M223.2 295.6V385.1M231.8 292.9V382.4M255 285.6V375.1M277.5 278.5V368M300 271.4V360.9M322.5 264.4V353.9M345 257.3V346.8M368.2 250V339.5M390.7 242.9V332.4M413.2 235.8V325.3M435 228.9V318.4M457.5 221.8V311.3M480 214.8V304.3M502.5 207.7V297.2M525 200.6V290.1M548 193.3V282.8M553.7 191.5V281M559.7 189.7V279.2M565.5 187.8V277.3M571.5 185.9V275.4M577.9 183.9V273.4M584.6 181.8V271.3M589.7 180.2V269.7M595.4 178.4V267.9M601.5 176.5V266M607.2 174.7V264.2M613.1 172.8V262.3M619.8 170.7V260.2M626.3 168.7V258.2M632.7 166.6V256.1M655.5 159.5V249M678.4 152.3V241.8M700.5 145.3V234.8M722.2 138.5V228M744.7 131.4V220.9M767.2 124.3V213.8M789.7 117.2V206.7M812.2 110.1V199.6M834.7 103V192.5M849.9 98.2V187.7M857.2 95.9V185.4M864.8 93.5V183" stroke="#f3a06c" stroke-width="0.9" stroke-linecap="butt" transform="translate(-0.4 0)"/>
<path d="M546 193L636 164.6L636 255.6L546 284Z" fill="#d9713c" opacity="0.3" stroke="none"/>
<path d="M184 307L236 290.6L236 381.6L184 398Z" fill="#d9713c" opacity="0.28" stroke="none"/>
<path d="M538 212.5L646 178.5" stroke="#d9662f" stroke-width="2.2"/>
<path d="M538 212L646 178" stroke="#f6ad7c" stroke-width="0.7"/>
<path d="M538 230.5L646 196.5" stroke="#d9662f" stroke-width="2.2"/>
<path d="M538 230L646 196" stroke="#f6ad7c" stroke-width="0.7"/>
<path d="M538 236.5L646 202.5" stroke="#d9662f" stroke-width="2.2"/>
<path d="M538 236L646 202" stroke="#f6ad7c" stroke-width="0.7"/>
<path d="M538 250.5L646 216.5" stroke="#d9662f" stroke-width="2.2"/>
<path d="M538 250L646 216" stroke="#f6ad7c" stroke-width="0.7"/>
<path d="M530 236L556 214M560 242L600 212M600 232L640 196M528 214L560 232M566 205L606 226" stroke="#cf6230" stroke-width="2"/>
<path d="M190 306.5L814 109.9" stroke="#e66a2e" stroke-width="1.8" opacity="0.85"/>
<path d="M190 306L814 109.4" stroke="#f8b07e" stroke-width="0.6" opacity="0.9"/>
<path d="M190 310.7L814 114.1" stroke="#e66a2e" stroke-width="1.8" opacity="0.85"/>
<path d="M190 310.2L814 113.6" stroke="#f8b07e" stroke-width="0.6" opacity="0.9"/>
<path d="M190 332.4L814 135.8" stroke="#e66a2e" stroke-width="1.4" opacity="0.85"/>
<path d="M190 331.9L814 135.3" stroke="#f8b07e" stroke-width="0.6" opacity="0.9"/>
<path d="M190 335.8L814 139.2" stroke="#e66a2e" stroke-width="1.4" opacity="0.85"/>
<path d="M190 335.3L814 138.7" stroke="#f8b07e" stroke-width="0.6" opacity="0.9"/>
<path d="M190 357.6L814 161" stroke="#e66a2e" stroke-width="1.5" opacity="0.85"/>
<path d="M190 357.1L814 160.5" stroke="#f8b07e" stroke-width="0.6" opacity="0.9"/>
<path d="M190 366.1L814 169.5" stroke="#e66a2e" stroke-width="1.6" opacity="0.85"/>
<path d="M190 365.6L814 169" stroke="#f8b07e" stroke-width="0.6" opacity="0.9"/>
<path d="M190 372.1L814 175.5" stroke="#e66a2e" stroke-width="1.6" opacity="0.85"/>
<path d="M190 371.6L814 175" stroke="#f8b07e" stroke-width="0.6" opacity="0.9"/>
<path d="M190 378.1L814 181.5" stroke="#e66a2e" stroke-width="1.6" opacity="0.85"/>
<path d="M190 377.6L814 181" stroke="#f8b07e" stroke-width="0.6" opacity="0.9"/>
<path d="M190 384.1L814 187.5" stroke="#e66a2e" stroke-width="1.6" opacity="0.85"/>
<path d="M190 383.6L814 187" stroke="#f8b07e" stroke-width="0.6" opacity="0.9"/>
<path d="M190 390.1L814 193.5" stroke="#e66a2e" stroke-width="1.6" opacity="0.85"/>
<path d="M190 389.6L814 193" stroke="#f8b07e" stroke-width="0.6" opacity="0.9"/>
</g>
<g id="logo">
<path d="M598.3 364H616.5C624 364 627.8 369.5 627.8 376C627.8 382.5 624 386 619.5 387.5L635 408.3H624.5L612.3 391H608.8V406L598.3 407.6ZM608.8 371.2V380.8H614C616.5 380.8 617.6 378.5 617.6 376C617.6 373.5 616.5 371.2 614 371.2Z" fill="url(#gR)" fill-rule="evenodd"/>
<path d="M598.3 364L602.8 366.3V405.6L598.3 407.6Z" fill="#1c4789"/>
<path d="M602.8 392L608.8 388V406L598.3 407.6L602.8 405.6Z" fill="#3f7fc4" opacity="0.85"/>
<path d="M612.3 391L619.5 387.5L635 408.3H624.5Z" fill="#5ea5dd" opacity="0.8"/>
<path d="M620 399L627 397.6L635 408.3H624.5Z" fill="#8cc6ec" opacity="0.7"/>
<text x="651" y="383.2" font-family="Liberation Sans, sans-serif" font-size="25.6" fill="#141414" textLength="129.5" lengthAdjust="spacingAndGlyphs">AUTODESK</text>
<text x="651" y="408.6" font-family="Liberation Sans, sans-serif" font-size="24.6" font-weight="bold" fill="#141414" textLength="71" lengthAdjust="spacingAndGlyphs">REVIT</text>
<text x="781.6" y="369.6" font-family="Liberation Sans, sans-serif" font-size="5.5" fill="#222">®</text>
<text x="723.6" y="396.2" font-family="Liberation Sans, sans-serif" font-size="5.5" fill="#222">®</text>
</g>
</svg>
</body></html>
